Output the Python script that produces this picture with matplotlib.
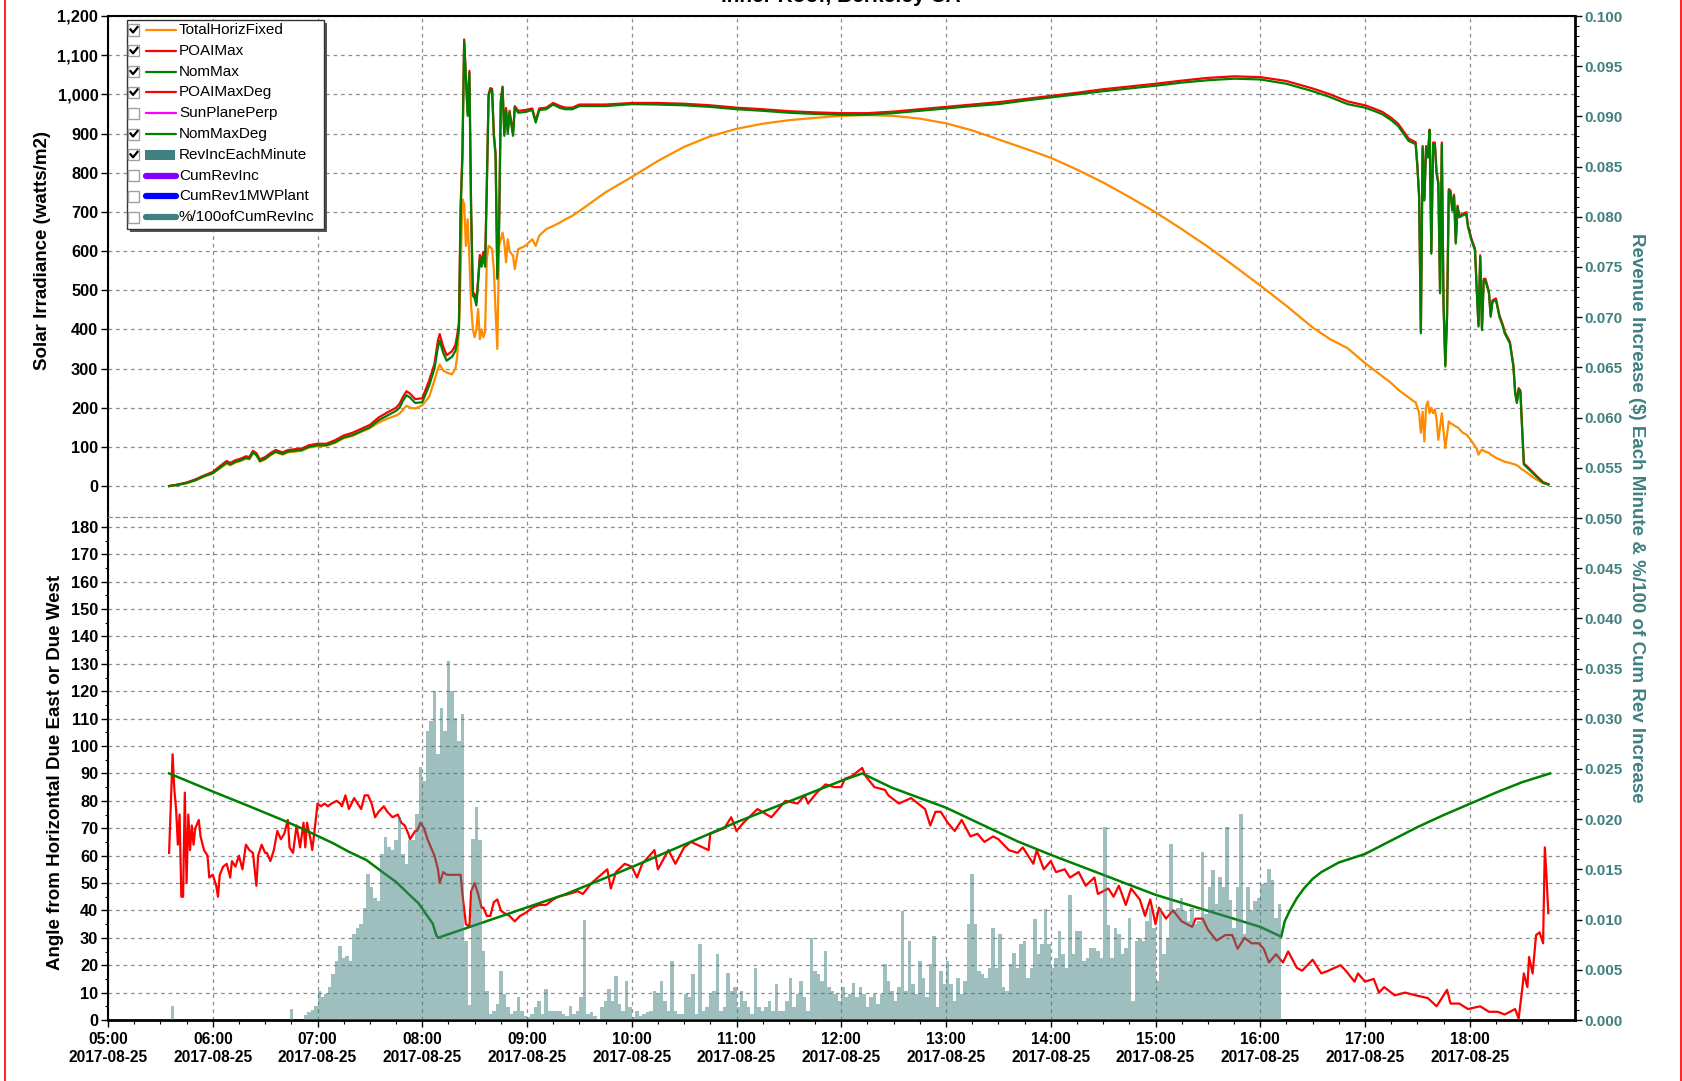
import matplotlib
matplotlib.use("Agg")
import matplotlib.pyplot as plt
import matplotlib.dates as mdates
from matplotlib.lines import Line2D
from matplotlib.patches import Rectangle
from matplotlib.ticker import MultipleLocator, FuncFormatter
import numpy as np
import pandas as pd

plt.rcParams['font.family'] = ['Liberation Sans', 'DejaVu Sans']

DAY = "2017-08-25 "

# ---- top panel: irradiance (watts/m2) ----
top_times = ["05:35", "05:40", "05:45", "05:50", "05:55", "06:00", "06:05", "06:08", "06:10", "06:13",
             "06:16", "06:19", "06:21", "06:23", "06:25", "06:27", "06:30", "06:33", "06:36", "06:40",
             "06:43", "06:47", "06:51", "06:55", "07:00", "07:05", "07:10", "07:15", "07:20", "07:25",
             "07:30", "07:35", "07:40", "07:45", "07:47", "07:49", "07:51", "07:53", "07:56", "08:00",
             "08:04", "08:07", "08:09", "08:10", "08:12", "08:14", "08:17", "08:19", "08:20", "08:21",
             "08:22", "08:23", "08:24", "08:25", "08:26", "08:27", "08:28", "08:29", "08:30", "08:31",
             "08:32", "08:33", "08:34", "08:35", "08:36", "08:37", "08:38", "08:39", "08:40", "08:41",
             "08:42", "08:43", "08:44", "08:45", "08:46", "08:47", "08:48", "08:49", "08:50", "08:52",
             "08:53", "08:55", "08:59", "09:03", "09:05", "09:07", "09:11", "09:15", "09:19", "09:22",
             "09:26", "09:30", "09:45", "10:00", "10:15", "10:30", "10:45", "11:00", "11:15", "11:30",
             "11:45", "12:00", "12:15", "12:30", "12:45", "13:00", "13:15", "13:30", "13:45", "14:00",
             "14:15", "14:30", "14:45", "15:00", "15:15", "15:30", "15:45", "16:00", "16:15", "16:30",
             "16:40", "16:50", "17:00", "17:05", "17:10", "17:15", "17:19", "17:22", "17:25", "17:28",
             "17:29", "17:30", "17:31", "17:32", "17:33", "17:34", "17:35", "17:36", "17:37", "17:38",
             "17:39", "17:40", "17:41", "17:42", "17:43", "17:44", "17:45", "17:46", "17:47", "17:48",
             "17:49", "17:50", "17:51", "17:52", "17:53", "17:54", "17:56", "17:58", "17:59", "18:01",
             "18:03", "18:04", "18:05", "18:06", "18:07", "18:08", "18:09", "18:10", "18:11", "18:12",
             "18:13", "18:15", "18:17", "18:19", "18:20", "18:23", "18:25", "18:26", "18:27", "18:28",
             "18:29", "18:30", "18:31", "18:34", "18:38", "18:42", "18:45"]

total_horiz_fixed = [0, 3, 7, 14, 24, 32, 48, 57, 53, 60,
                     64, 70, 68, 84, 78, 62, 68, 78, 86, 80,
                     86, 88, 90, 98, 102, 103, 110, 122, 128, 138,
                     148, 162, 172, 180, 185, 195, 205, 200, 198, 206,
                     228, 270, 300, 310, 295, 290, 285, 300, 330, 401,
                     550, 732, 720, 613, 681, 580, 461, 401, 380, 400,
                     452, 375, 400, 380, 395, 580, 613, 610, 605, 554,
                     444, 350, 613, 630, 647, 620, 571, 630, 600, 588,
                     554, 605, 613, 630, 613, 639, 656, 664, 673, 681,
                     690, 702, 750, 789, 830, 866, 893, 912, 925, 934,
                     940, 945, 947, 945, 938, 926, 908, 885, 862, 838,
                     808, 775, 738, 699, 656, 611, 562, 512, 460, 405,
                     375, 352, 314, 297, 280, 263, 246, 236, 226, 216,
                     214, 200, 186, 136, 190, 114, 203, 216, 186, 200,
                     186, 196, 170, 118, 150, 186, 140, 97, 130, 165,
                     160, 158, 155, 152, 150, 146, 136, 132, 127, 115,
                     102, 95, 80, 88, 93, 90, 88, 86, 85, 80,
                     78, 72, 68, 64, 62, 59, 56, 55, 53, 50,
                     46, 42, 40, 30, 17, 8, 4]

poai_max = [0, 4, 9, 17, 27, 36, 54, 64, 59, 66,
            70, 76, 74, 90, 84, 68, 74, 84, 92, 86,
            92, 94, 96, 104, 108, 108, 117, 129, 136, 146,
            156, 175, 188, 200, 210, 228, 242, 236, 222, 224,
            270, 312, 372, 388, 356, 334, 344, 360, 385, 415,
            720, 850, 1140, 1045, 955, 1060, 705, 495, 490, 470,
            528, 590, 570, 598, 570, 772, 1000, 1016, 1014, 900,
            850, 535, 662, 985, 1020, 900, 965, 905, 958, 900,
            970, 958, 960, 964, 932, 964, 966, 978, 970, 966,
            966, 974, 974, 978, 978, 976, 972, 966, 962, 957,
            954, 952, 952, 956, 962, 968, 974, 980, 988, 996,
            1004, 1013, 1020, 1027, 1035, 1042, 1046, 1044, 1034, 1015,
            1000, 982, 972, 964, 955, 940, 925, 906, 887, 880,
            878, 820, 742, 395, 868, 734, 868, 844, 910, 598,
            877, 877, 802, 776, 496, 877, 462, 310, 436, 758,
            754, 707, 744, 623, 716, 690, 695, 699, 665, 631,
            606, 504, 411, 589, 402, 529, 529, 512, 496, 436,
            474, 479, 436, 411, 394, 368, 309, 241, 216, 250,
            244, 148, 58, 45, 27, 10, 5]

nom_max = [0, 3, 8, 15, 25, 33, 50, 60, 55, 62,
           66, 72, 70, 86, 80, 64, 70, 80, 88, 82,
           88, 90, 92, 100, 104, 104, 112, 124, 130, 140,
           150, 168, 180, 192, 200, 218, 232, 226, 212, 214,
           257, 300, 355, 371, 340, 320, 330, 345, 371, 401,
           700, 838, 1135, 1038, 945, 1055, 698, 486, 480, 461,
           520, 580, 560, 588, 560, 766, 995, 1012, 1010, 894,
           843, 529, 656, 980, 1017, 894, 960, 900, 953, 894,
           966, 953, 955, 960, 928, 960, 962, 974, 965, 962,
           962, 970, 970, 975, 974, 972, 968, 962, 958, 953,
           950, 948, 948, 952, 958, 964, 970, 975, 984, 992,
           1000, 1008, 1015, 1022, 1030, 1036, 1040, 1038, 1027, 1008,
           993, 975, 966, 958, 949, 934, 919, 900, 881, 875,
           873, 814, 737, 390, 864, 729, 864, 839, 907, 593,
           873, 873, 797, 771, 492, 873, 458, 305, 432, 754,
           750, 703, 740, 619, 712, 686, 691, 695, 661, 627,
           602, 500, 407, 585, 398, 525, 525, 508, 492, 432,
           470, 475, 432, 407, 390, 364, 305, 237, 212, 246,
           240, 144, 55, 42, 25, 8, 4]

# ---- bottom panel: angle from horizontal (degrees) ----
red_times = ["05:35", "05:36", "05:37", "05:38", "05:39", "05:40", "05:41", "05:42", "05:43", "05:44",
             "05:45", "05:46", "05:47", "05:48", "05:49", "05:50", "05:52", "05:53", "05:55", "05:57",
             "05:58", "06:00", "06:02", "06:03", "06:04", "06:06", "06:08", "06:10", "06:11", "06:13",
             "06:15", "06:17", "06:19", "06:21", "06:23", "06:25", "06:26", "06:28", "06:30", "06:31",
             "06:33", "06:35", "06:37", "06:39", "06:41", "06:43", "06:44", "06:46", "06:48", "06:50",
             "06:52", "06:53", "06:54", "06:56", "06:57", "06:59", "07:00", "07:02", "07:04", "07:06",
             "07:08", "07:11", "07:13", "07:14", "07:16", "07:18", "07:21", "07:23", "07:25", "07:27",
             "07:29", "07:31", "07:33", "07:35", "07:38", "07:40", "07:43", "07:46", "07:48", "07:50",
             "07:52", "07:53", "07:55", "07:56", "07:57", "07:59", "08:01", "08:03", "08:05", "08:07",
             "08:09", "08:10", "08:12", "08:14", "08:17", "08:20", "08:22", "08:23", "08:25", "08:27",
             "08:28", "08:30", "08:32", "08:34", "08:35", "08:37", "08:39", "08:41", "08:43", "08:45",
             "08:47", "08:50", "08:53", "08:56", "08:59", "09:03", "09:07", "09:11", "09:15", "09:18",
             "09:24", "09:29", "09:32", "09:37", "09:46", "09:48", "09:51", "09:56", "10:00", "10:03",
             "10:06", "10:13", "10:15", "10:21", "10:25", "10:30", "10:34", "10:44", "10:45", "10:53",
             "10:57", "11:00", "11:04", "11:12", "11:20", "11:28", "11:35", "11:39", "11:41", "11:46",
             "11:51", "11:56", "12:00", "12:02", "12:06", "12:10", "12:12", "12:14", "12:19", "12:25",
             "12:27", "12:33", "12:40", "12:44", "12:48", "12:51", "12:54", "12:57", "13:01", "13:05",
             "13:09", "13:14", "13:18", "13:22", "13:27", "13:30", "13:33", "13:36", "13:41", "13:44",
             "13:47", "13:50", "13:52", "13:56", "14:00", "14:03", "14:08", "14:11", "14:16", "14:20",
             "14:25", "14:27", "14:33", "14:36", "14:39", "14:43", "14:46", "14:51", "14:54", "14:57",
             "15:00", "15:02", "15:06", "15:10", "15:15", "15:21", "15:23", "15:27", "15:30", "15:35",
             "15:40", "15:44", "15:47", "15:51", "15:55", "15:59", "16:02", "16:05", "16:09", "16:13",
             "16:16", "16:21", "16:24", "16:27", "16:30", "16:35", "16:39", "16:46", "16:49", "16:54",
             "16:56", "17:00", "17:05", "17:08", "17:11", "17:17", "17:23", "17:29", "17:36", "17:41",
             "17:47", "17:49", "17:54", "17:59", "18:06", "18:11", "18:16", "18:20", "18:26", "18:28",
             "18:30", "18:31", "18:33", "18:34", "18:36", "18:38", "18:40", "18:42", "18:43", "18:44",
             "18:45"]

poai_max_deg = [61, 79, 97, 84, 77, 64, 75, 45, 45, 83,
                50, 75, 62, 71, 64, 70, 73, 67, 62, 60,
                52, 53, 49, 45, 53, 56, 57, 52, 58, 56,
                60, 55, 64, 62, 61, 49, 60, 64, 61, 61,
                58, 62, 69, 66, 68, 73, 63, 61, 71, 63,
                72, 63, 72, 66, 62, 73, 79, 78, 79, 78,
                79, 80, 79, 78, 82, 77, 81, 79, 77, 82,
                82, 79, 74, 76, 78, 76, 74, 75, 72, 71,
                68, 66, 68, 69, 69, 72, 70, 66, 63, 60,
                55, 50, 54, 53, 53, 53, 53, 46, 35, 34,
                47, 50, 46, 41, 41, 38, 38, 43, 44, 40,
                39, 38, 36, 38, 39, 41, 42, 42, 44, 45,
                46, 47, 46, 50, 55, 48, 54, 57, 56, 52,
                57, 62, 55, 62, 57, 63, 65, 62, 68, 70,
                74, 69, 72, 77, 74, 80, 79, 82, 79, 83,
                86, 85, 85, 88, 89, 91, 92, 89, 85, 84,
                82, 79, 81, 79, 77, 71, 76, 76, 72, 69,
                73, 67, 68, 65, 67, 66, 64, 62, 61, 63,
                60, 57, 62, 55, 58, 54, 55, 52, 54, 49,
                52, 46, 48, 45, 49, 42, 48, 44, 38, 44,
                35, 41, 37, 40, 36, 34, 37, 37, 33, 29,
                31, 31, 26, 30, 28, 28, 26, 21, 24, 21,
                25, 19, 18, 20, 22, 17, 18, 20, 18, 14,
                17, 14, 15, 10, 12, 9, 10, 9, 8, 5,
                11, 6, 6, 4, 5, 3, 3, 2, 4, 0.5,
                11, 17, 12, 23, 17, 31, 32, 28, 63, 52,
                39]

green_times = ["05:35", "06:00", "06:21", "06:40", "06:50", "07:00", "07:09", "07:18", "07:28", "07:37",
               "07:45", "07:53", "07:58", "08:02", "08:06", "08:08", "08:09", "09:22", "10:00", "11:00",
               "12:00", "12:12", "12:29", "13:00", "13:41", "14:00", "15:00", "16:00", "16:12", "16:14",
               "16:17", "16:21", "16:25", "16:30", "16:35", "16:45", "17:00", "17:15", "17:30", "17:45",
               "18:00", "18:15", "18:30", "18:46"]
nom_max_deg = [90, 83.4, 78, 73, 70.2, 67.2, 64.5, 61.4, 58.4, 54.1,
               50.4, 45.5, 42.5, 38.8, 35.2, 31, 30, 45.9, 55.8, 72.2,
               87.3, 90, 84.8, 77.5, 65.2, 60.3, 45.7, 34.0, 30.4, 36,
               40, 44.5, 48, 51.5, 54, 57.5, 60.6, 65.5, 70.4, 74.8,
               78.9, 83, 86.8, 90]

# ---- revenue increase each minute, in 1/1000 $, 2-minute bins from 05:36 ----
bar_first = "05:36"
rev_mills = [1.4, 0, 0, 0, 0, 0, 0, 0, 0, 0, 0, 0, 0, 0, 0, 0,
             0, 0, 0, 0, 0, 0, 0, 0, 0, 0, 0, 0, 0, 0, 0, 0,
             0, 0, 1.1, 0, 0, 0, 0.5, 0.8, 1.0, 1.4,
             2.9, 2.3, 2.6, 3.3, 4.6, 5.9, 7.4, 6.2, 6.4, 5.9, 8.6, 9.2, 9.6, 11.2, 14.5,
             13.2, 12.2, 11.9, 16.5, 18.2, 17.2, 16.9, 17.9, 20.2, 16.5, 15.5, 17.9, 17.9, 20.5, 25.2,
             23.8, 28.8, 29.8, 32.8, 26.5, 31.1, 28.8, 35.8, 32.8, 30.1, 27.8, 30.5, 7.9, 1.5, 18.0,
             21.2, 17.9, 6.9, 2.9, 0.6, 0.9, 1.6, 4.9, 2.6, 1.3, 0.6, 0.9, 2.3, 0.9, 0.4,
             0.3, 0.6, 1.3, 1.9, 0.6, 3.1, 0.9, 0.9, 0.9, 0.9, 0.6, 0.4, 1.4, 0.6, 0.9,
             2.3, 10.0, 0.6, 0.8, 0.4, 0.1, 1.3, 1.9, 3.1, 1.9, 4.4, 1.6, 0.9, 3.9, 1.3,
             0.3, 0.9, 0.4, 0.6, 0.8, 0.9, 2.9, 2.6, 3.9, 1.9, 0.9, 5.9, 0.9, 0.6, 0.6,
             2.6, 2.3, 4.6, 0.6, 7.6, 0.9, 1.3, 2.6, 2.9, 6.6, 0.9, 1.3, 4.7, 2.9, 3.3,
             1.3, 2.9, 1.9, 1.3, 0.6, 5.2, 1.3, 0.9, 1.3, 1.9, 0.9, 3.6, 0.9, 0.9, 1.9,
             4.2, 1.3, 2.6, 3.9, 2.3, 0.9, 8.2, 4.9, 4.6, 3.9, 6.9, 3.3, 2.9, 2.6, 1.9,
             3.3, 2.3, 2.6, 3.7, 2.3, 3.3, 2.6, 1.3, 2.3, 2.6, 1.6, 2.6, 5.6, 3.9, 2.9,
             1.9, 3.3, 10.9, 2.9, 7.9, 3.6, 2.6, 5.9, 4.2, 2.3, 5.6, 8.4, 1.3, 4.9, 3.6,
             5.9, 3.6, 1.9, 4.2, 2.6, 3.9, 9.6, 14.5, 9.6, 4.9, 4.6, 4.2, 5.2, 9.2, 5.2,
             8.6, 3.3, 2.9, 5.6, 6.7, 5.2, 7.6, 7.9, 4.2, 5.2, 10.1, 6.6, 7.6, 11.1, 7.6,
             5.2, 6.2, 8.9, 6.6, 5.2, 12.5, 6.6, 8.9, 8.9, 5.9, 6.2, 7.2, 7.2, 6.9, 6.2,
             19.2, 9.5, 6.2, 9.2, 8.6, 6.6, 7.2, 10.2, 1.9, 7.9, 8.2, 7.9, 9.9, 11.2, 9.2,
             3.9, 11.2, 6.6, 8.2, 17.5, 10.9, 11.2, 12.2, 10.9, 9.9, 11.2, 9.6, 9.9, 16.7, 10.6,
             13.2, 14.9, 11.6, 14.2, 13.2, 19.2, 12.0, 9.2, 13.2, 20.5, 8.6, 13.2, 10.9, 11.9, 12.2,
             13.5, 13.5, 15.0, 13.9, 10.2, 11.6]

legend_names = ["TotalHorizFixed", "POAIMax", "NomMax", "POAIMaxDeg", "SunPlanePerp",
                "NomMaxDeg", "RevIncEachMinute", "CumRevInc", "CumRev1MWPlant", "%/100ofCumRevInc"]
legend_checked = [True, True, True, True, False, True, True, False, False, False]
legend_colors = ["#ff8c00", "#ff0000", "#008000", "#ff0000", "#ff00ff",
                 "#008000", "#408080", "#8000ff", "#0000ff", "#408080"]


def to_dt(times):
    return pd.to_datetime([DAY + t for t in times])


W, H = 1683, 1081
fig = plt.figure(figsize=(W / 100, H / 100), dpi=100)


def fx(px):
    return px / W


def fy(py):
    return 1 - py / H


left, right = 108, 1574.5
top, mid, bottom = 16, 517, 1020

ax_top = fig.add_axes([fx(left), fy(mid), fx(right - left), (mid - top) / H])
ax_bot = fig.add_axes([fx(left), fy(bottom), fx(right - left), (bottom - mid) / H], sharex=ax_top)
ax_r = fig.add_axes([fx(left), fy(bottom), fx(right - left), (bottom - top) / H], sharex=ax_top)

orange, red, green, teal = "#ff8c00", "#ff0000", "#008000", "#408080"
grid_kw = dict(color="#8c8c8c", linestyle=(0, (3, 3)), linewidth=0.9)

t_top = to_dt(top_times)
ax_top.plot(t_top, total_horiz_fixed, color=orange, lw=1.6)
ax_top.plot(t_top, poai_max, color=red, lw=1.6)
ax_top.plot(t_top, nom_max, color=green, lw=1.6)

ax_bot.plot(to_dt(red_times), poai_max_deg, color=red, lw=1.6)
ax_bot.plot(to_dt(green_times), nom_max_deg, color=green, lw=1.8)

bar_x = pd.date_range(DAY + bar_first, periods=len(rev_mills), freq="2min")
ax_r.bar(bar_x, np.array(rev_mills) / 1000, width=2 / 1440, align="edge",
         color=teal, alpha=0.5, linewidth=0)

x0 = pd.Timestamp(DAY + "05:00")
x1 = pd.Timestamp(DAY + "19:00")
ax_top.set_xlim(x0, x1)

# top axis
ax_top.set_ylim(-79, 1200)
ax_top.set_yticks(np.arange(0, 1201, 100))
ax_top.yaxis.set_major_formatter(FuncFormatter(lambda v, p: f"{int(v):,}"))
ax_top.grid(True, **grid_kw)
ax_top.tick_params(axis="x", length=0, labelbottom=False)
ax_top.spines["bottom"].set_visible(False)
ax_top.spines["right"].set_visible(False)
ax_top.spines["top"].set_linewidth(1.5)
ax_top.spines["left"].set_linewidth(1.5)

# bottom axis
ax_bot.set_ylim(0, 183.6)
ax_bot.set_yticks(np.arange(0, 181, 10))
ax_bot.yaxis.set_minor_locator(MultipleLocator(5))
ax_bot.grid(True, **grid_kw)
ax_bot.spines["top"].set_color("#8c8c8c")
ax_bot.spines["top"].set_linestyle((0, (3, 3)))
ax_bot.spines["top"].set_linewidth(0.9)
ax_bot.spines["right"].set_visible(False)
ax_bot.spines["bottom"].set_linewidth(2)
ax_bot.spines["left"].set_linewidth(1.5)
ax_bot.xaxis.set_major_locator(mdates.HourLocator(byhour=range(5, 19)))
ax_bot.xaxis.set_minor_locator(mdates.MinuteLocator(byminute=[15, 30, 45]))
ax_bot.xaxis.set_major_formatter(mdates.DateFormatter("%H:%M\n%Y-%m-%d"))

for ax in (ax_top, ax_bot):
    ax.set_axisbelow(True)
    ax.tick_params(axis="y", which="major", length=5, width=1, labelsize=11.8, pad=2)
    ax.tick_params(axis="y", which="minor", length=2.5, width=0.8)
    for lab in ax.get_yticklabels():
        lab.set_fontweight("bold")

ax_bot.tick_params(axis="x", which="major", length=5, width=1, labelsize=11.2, pad=4)
ax_bot.tick_params(axis="x", which="minor", length=3, width=0.8)
for lab in ax_bot.get_xticklabels():
    lab.set_fontweight("bold")
    lab.set_linespacing(1.25)

# right revenue axis
ax_r.patch.set_visible(False)
ax_r.set_ylim(0, 0.1)
ax_r.yaxis.tick_right()
ax_r.yaxis.set_label_position("right")
ax_r.set_yticks(np.arange(0, 0.1001, 0.005))
ax_r.yaxis.set_minor_locator(MultipleLocator(0.001))
ax_r.yaxis.set_major_formatter(FuncFormatter(lambda v, p: f"{v:.3f}"))
ax_r.tick_params(axis="y", which="major", length=5, width=1, labelsize=11,
                 labelcolor=teal, pad=2)
ax_r.tick_params(axis="y", which="minor", length=3, width=0.8)
ax_r.tick_params(axis="x", which="both", length=0, labelbottom=False)
for lab in ax_r.get_yticklabels():
    lab.set_fontweight("bold")
for s in ("left", "top", "bottom"):
    ax_r.spines[s].set_visible(False)
ax_r.spines["right"].set_linewidth(2)
ax_r.set_ylabel("Revenue Increase ($) Each Minute & %/100 of Cum Rev Increase",
                rotation=270, fontsize=13.5, fontweight="bold", color=teal, labelpad=16)

fig.text(fx(43), fy(251), "Solar Irradiance (watts/m2)", rotation=90, ha="center", va="center",
         fontsize=13.5, fontweight="bold")
fig.text(fx(56), fy(772), "Angle from Horizontal Due East or Due West", rotation=90,
         ha="center", va="center", fontsize=13.5, fontweight="bold")

fig.text(fx((left + right) / 2), fy(2.5), "Inner Roof, Berkeley CA", ha="center", va="baseline",
         fontsize=15, fontweight="bold")

# legend with check boxes
lx0, ly0, lx1, ly1 = 127, 20, 324, 229
fig.add_artist(Rectangle((fx(lx0 + 3), fy(ly1 + 3)), fx(lx1 - lx0), (ly1 - ly0) / H,
                         facecolor="#555555", edgecolor="none", zorder=5))
fig.add_artist(Rectangle((fx(lx0), fy(ly1)), fx(lx1 - lx0), (ly1 - ly0) / H,
                         facecolor="white", edgecolor="#333333", lw=1, zorder=6))
for i, (name, on, col) in enumerate(zip(legend_names, legend_checked, legend_colors)):
    yc = 30 + 20.8 * i
    fig.add_artist(Rectangle((fx(128.5), fy(yc + 5.5)), fx(11), 11 / H,
                             facecolor="white", edgecolor="#a0a0a0", lw=1, zorder=7))
    if on:
        fig.add_artist(Line2D([fx(130.5), fx(133), fx(137.5)], [fy(yc - 0.5), fy(yc + 2.5), fy(yc - 3)],
                              color="black", lw=1.6, zorder=8))
    if name == "RevIncEachMinute":
        fig.add_artist(Rectangle((fx(145.5), fy(yc + 5)), fx(30), 10 / H,
                                 facecolor=col, edgecolor="none", zorder=7))
    else:
        thick = 4.5 if i >= 7 else 1.6
        fig.add_artist(Line2D([fx(146), fx(176)], [fy(yc), fy(yc)], color=col, lw=thick,
                              solid_capstyle="round", zorder=7))
    fig.text(fx(179), fy(yc), name, ha="left", va="center", fontsize=11, zorder=9)

# red frame edges
fig.add_artist(Line2D([fx(5), fx(5)], [0, 1], color="red", lw=1.2))
fig.add_artist(Line2D([fx(1681), fx(1681)], [0, 1], color="red", lw=1.2))

fig.savefig("out.png", dpi=100)
